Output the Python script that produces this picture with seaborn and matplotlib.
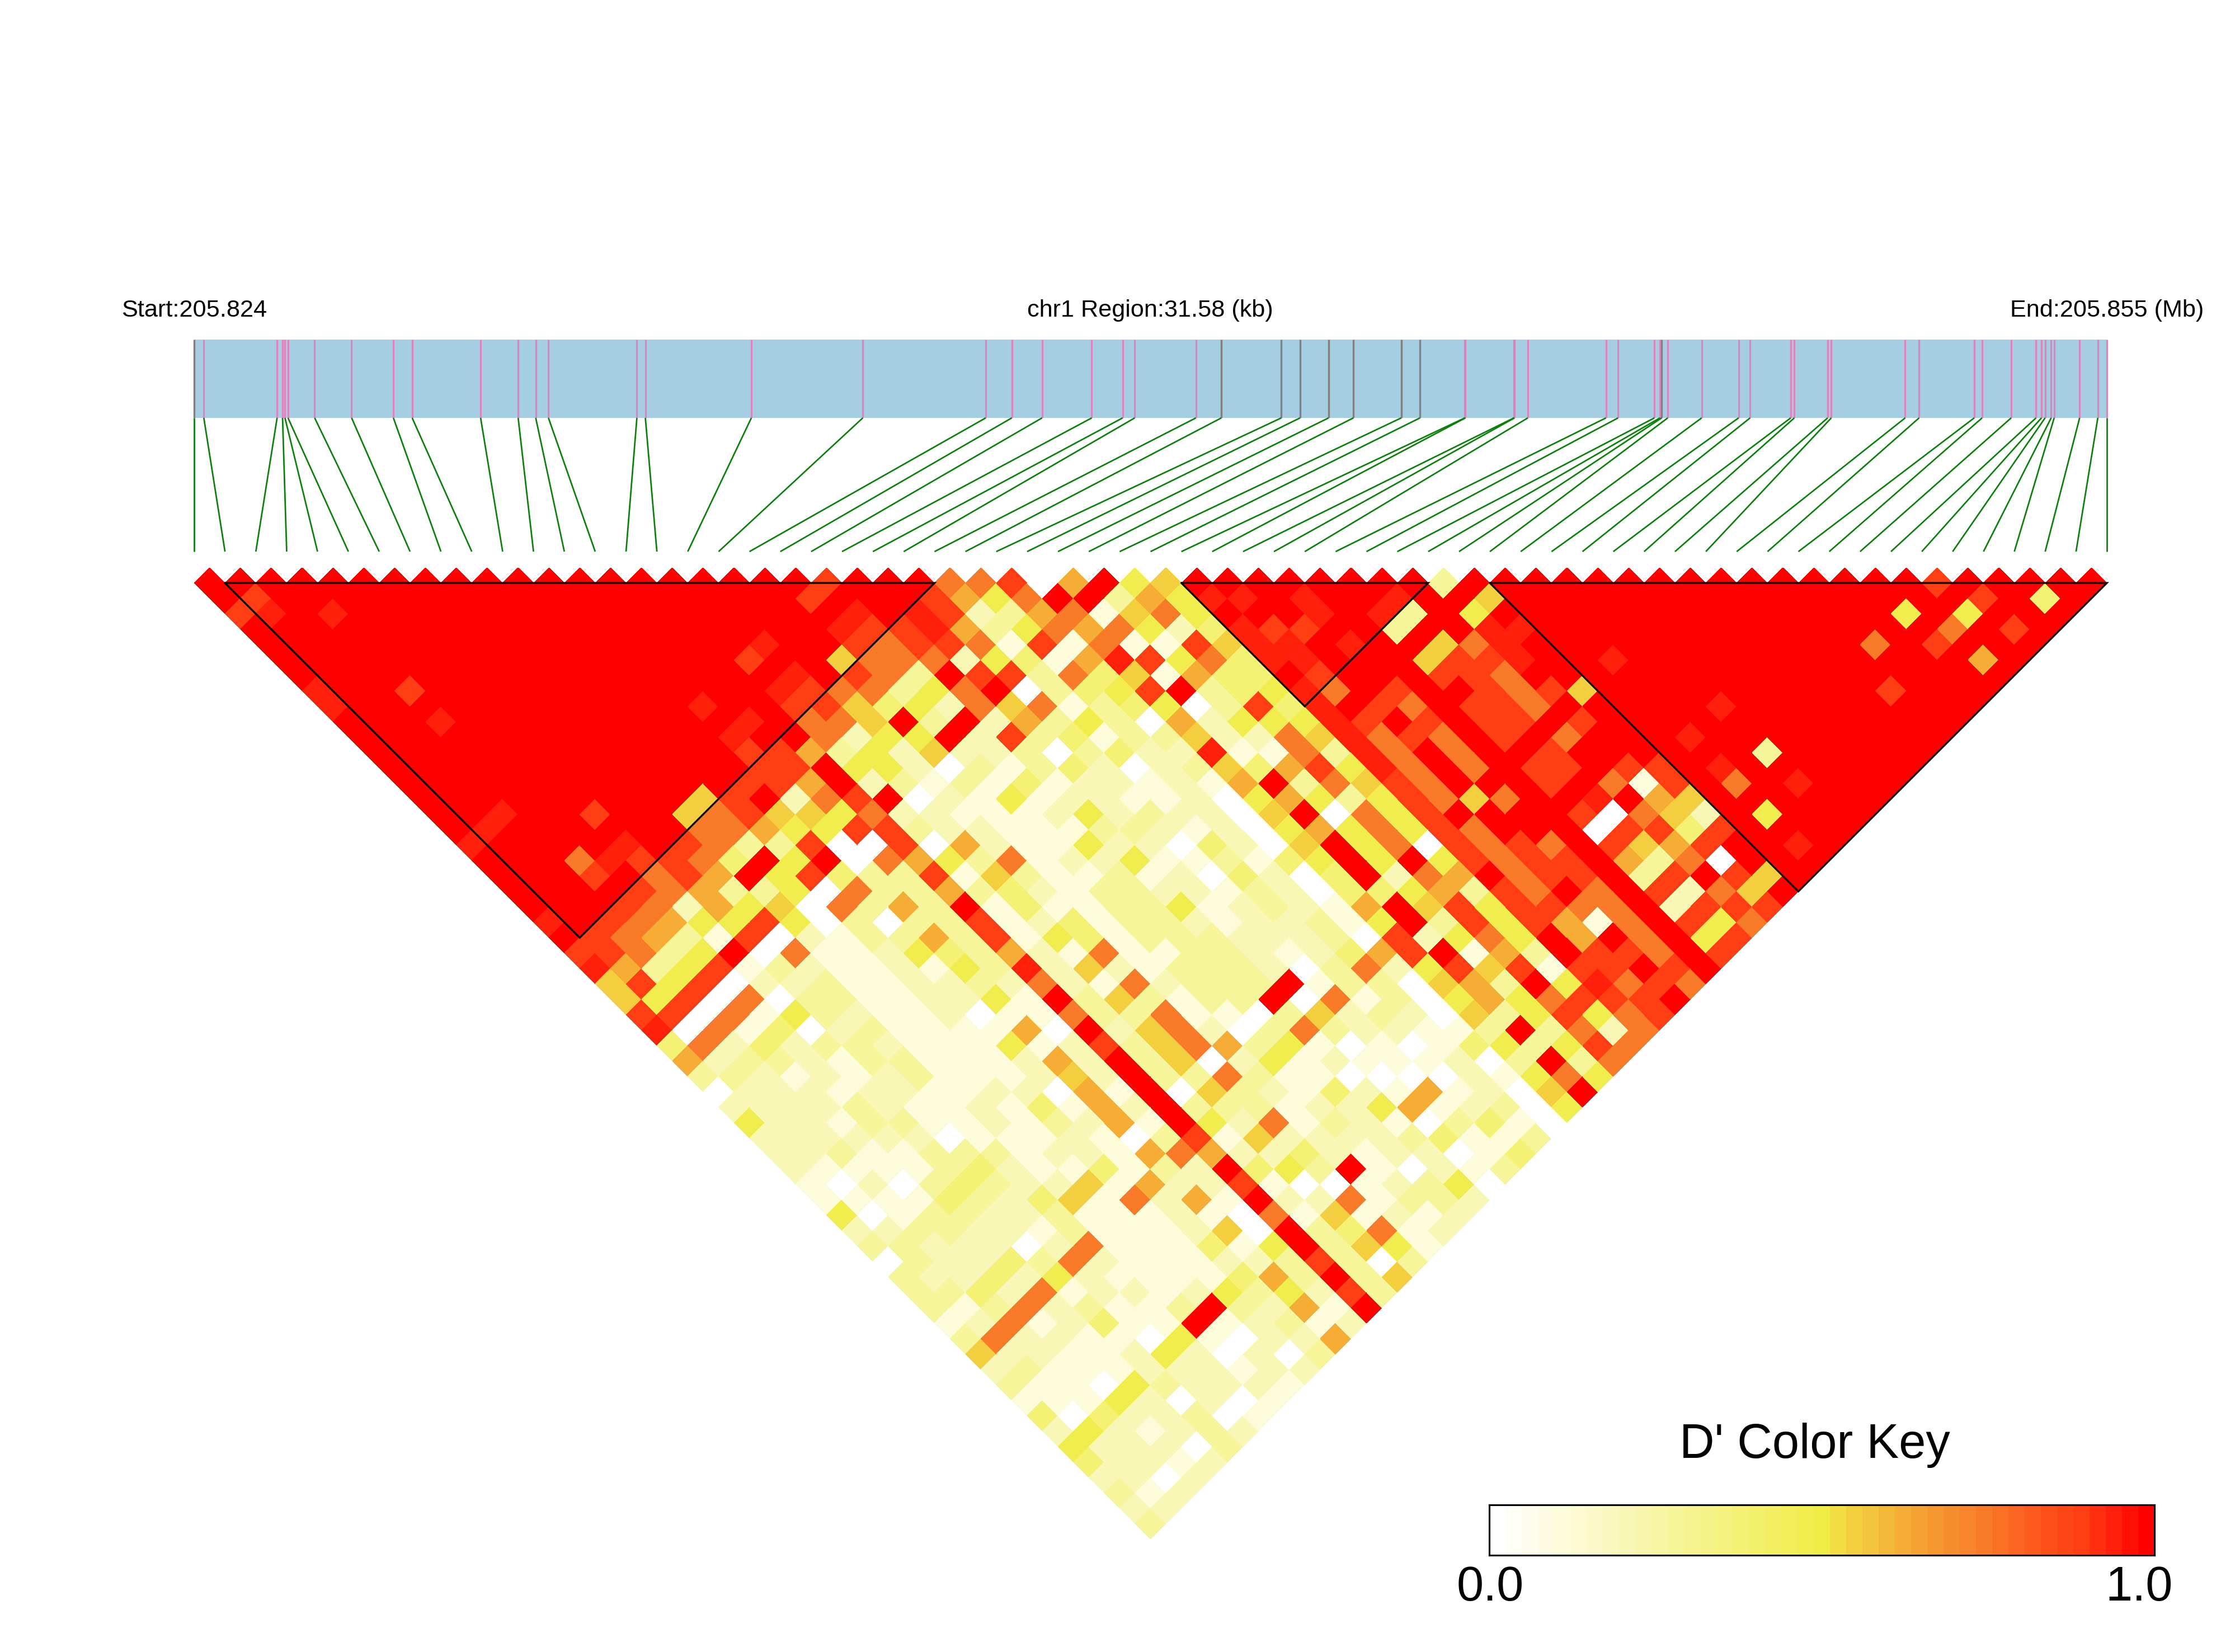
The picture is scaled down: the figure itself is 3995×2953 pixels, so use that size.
import numpy as np
import matplotlib
matplotlib.use("Agg")
import matplotlib.pyplot as plt
from matplotlib.colors import LinearSegmentedColormap
from matplotlib.transforms import Affine2D
import seaborn as sns

# Region annotation
START_LABEL = "Start:205.824"
REGION_LABEL = "chr1 Region:31.58 (kb)"
END_LABEL = "End:205.855 (Mb)"
KEY_TITLE = "D' Color Key"
KEY_TICKS = ["0.0", "1.0"]
REGION_KB = 31.58

# SNP offsets from the region start, in kb
SNP_POS_KB = [
    0.00, 0.16, 1.37, 1.46, 1.50, 1.55, 1.99, 2.60, 3.29, 3.60, 4.73, 5.35, 5.64, 5.85,
    7.31, 7.45, 9.20, 11.04, 13.07, 13.50, 14.00, 14.82, 15.33, 15.53, 16.54, 16.96,
    17.95, 18.26, 18.73, 19.14, 19.93, 20.24, 20.98, 20.99, 21.79, 21.80, 22.02, 23.31,
    23.51, 24.11, 24.20, 24.23, 24.33, 24.89, 25.50, 25.69, 26.36, 26.42, 26.97, 27.03,
    28.25, 28.48, 29.39, 29.52, 30.00, 30.41, 30.50, 30.56, 30.66, 30.71, 31.13, 31.43,
    31.58,
]
GREY_SNPS = [0, 25, 26, 27, 28, 29, 30, 31, 41]

# Haplotype blocks as (first SNP, last SNP)
BLOCKS = [(1, 24), (32, 40), (42, 62)]

# D' levels used in the pairwise table below
LEVELS = {"0": 0.0, "1": 0.12, "2": 0.2, "3": 0.29, "4": 0.38, "5": 0.48, "6": 0.56,
          "7": 0.63, "8": 0.74, "9": 0.88, "b": 0.95, "c": 0.98, "a": 1.0}

# Pairwise D': line n holds the pairs n SNPs apart, ordered by the left SNP
DPRIME_BY_DISTANCE = [
    "aaaaaaaaaa aaaaaaaaaa 9aaa88907a 56aaaaaaaa 3aaaaaaaaa aaaaaa9aaa aa",
    "a9aaaaaaaa aaaaaaaaa9 aaa9758aa3 75bbabaaba a6aaaaaaaa aaaaaaa9a4 a",
    "9babaaaaaa aaaaaaaaaa bab9237816 85aaabab3a 5aaaaaaaaa aaaa5a5aaa",
    "aaaaaaaaaa aaaaaaaaab 99b7358785 24b99aa3aa bbaaaaaaaa aaaaa8a9a",
    "aaaaaaaaaa aaaaaabaa9 8998191811 96bbabaa68 baaaaaaaaa aa8a9aaa",
    "aaaaaaaaaa aaaaa9aa68 8825417b95 84bbaaa699 baabaaaaaa aaaaa7a",
    "aaaaaaaaaa acaaaaba98 3a99384617 44a9aaa998 aaaaaaaaaa aaaaaa",
    "baa9aaaaaa aaaaab9883 58a03459a3 45b8a9aa98 96aaaaaaaa a9aaa",
    "baaaaaaaaa aabaa99645 2868134503 94ba98a998 aaaaabaaaa aaaa",
    "aaabaaaaaa aaaba886a3 a273530725 55b9a9a99a 9aaaaaaaaa aaa",
    "aaaaaaaaaa aabaa8255a 2934133622 86b898a9a8 aaabaaaaaa aa",
    "aaaaaaaaaa aa99735262 2303422b11 83b8a8aa9a aaaaa3aaaa a",
    "aaaaaaaaaa aa99a55203 1342023647 95b8a8a99a 99abaaaaaa",
    "aaaaaaaaaa a997a23131 41221217a3 8698aaa9a8 19a8abaaa",
    "aaaaaaaaa6 9a289a0215 1221120575 359868aaba 76aaaaaa",
    "aabaa9aa68 9665822111 25232206a0 859aaaa908 62a5aaa",
    "abaaaaaa88 7559932211 1332120575 8598aaa099 49aaaa",
    "baaaaba983 3900907211 52204206a5 809898a967 9aaba",
    "aaa8b9984a 5a08753812 25113145a5 a59899a738 0aaa",
    "aaa9a897a5 9433916311 31204204a2 87a899a39a 96a",
    "aaaa987335 0833734213 3221320445 7398a8a928 6a",
    "aaa9827560 8373a14113 35123217a6 959988a299 9",
    "ba98755950 3033912413 32122315a3 959718a958",
    "a987319021 3373915413 3322230925 85a7a8a59",
    "99835a0811 2543721811 33212479a1 73a998a9",
    "b735913211 2153b26213 3320382596 9199a9a",
    "6959022311 2232821823 33a1330673 a5b898",
    "6590803311 2251a36313 3a08130575 8999a",
    "9908153211 2011833811 0362320635 9589",
    "b081402311 1170a26820 38322113a3 828",
    "4824233211 1512936873 5101014535 98",
    "7233213311 1272a36025 12111203a3 8",
    "3321212311 1262a33831 1000021585",
    "0222122112 2071a06321 42171206a",
    "2222321121 4172a33312 25712305",
    "5221331121 3271a52813 2103410",
    "2222220111 2103916222 234113",
    "2231133312 2178722421 22014",
    "2111134211 4132a453a1 0213",
    "1020343226 1722910012 350",
    "1111432461 8271a22813 32",
    "5013322311 1210816121 2",
    "2233221311 1260a34812",
    "3322202811 1415a3651",
    "0322438211 12239303",
    "3224252111 1473a36",
    "3342812212 535293",
    "313823113a 3271a",
    "12812411a1 2312",
    "3822110510 227",
    "6221125202 03",
    "2311122212 2",
    "3110532221",
    "111520201",
    "40422301",
    "2521232",
    "522203",
    "42212",
    "2202",
    "312",
    "22",
    "3",
]

KEY_STEPS = 41
KEY_NODES = [(0.0, "#FFFFFF"), (0.5, "#F0EC46"), (0.55, "#F3CF40"), (0.65, "#F5A233"),
             (0.75, "#F97A28"), (0.85, "#FD5019"), (0.9, "#FF3E14"), (1.0, "#FF0000")]

W, H = 3995, 2953
DPI = 300

sns.set_theme(style="white")
plt.rcParams["font.family"] = ["Liberation Sans", "DejaVu Sans"]

fig = plt.figure(figsize=(W / DPI, H / DPI), dpi=DPI, facecolor="white")


def add_axes_px(left, top, right, bottom):
    """Axes placed by its pixel box, measured from the top-left corner."""
    return fig.add_axes([left / W, 1 - bottom / H, (right - left) / W, (bottom - top) / H])


def label_px(x, y, text, size):
    fig.text(x / W, 1 - y / H, text, ha="center", va="center", fontsize=size, color="black")


n_snps = len(SNP_POS_KB)
dprime = np.full((n_snps, n_snps), np.nan)
for dist, row in enumerate(DPRIME_BY_DISTANCE, start=1):
    cells = row.replace(" ", "")
    if len(cells) != n_snps - dist:
        raise ValueError(f"distance {dist}: {len(cells)} cells")
    for left, ch in enumerate(cells):
        dprime[left, left + dist] = LEVELS[ch]

ld_cmap = LinearSegmentedColormap.from_list("ld", KEY_NODES, N=KEY_STEPS)

# Gene bar with SNP ticks and the links to the evenly spaced heatmap columns
ax_map = add_axes_px(347, 607.5, 3766, 986)
ax_map.set_xlim(0, REGION_KB)
ax_map.set_ylim(0, 1)
ax_map.axis("off")
bar_floor = 0.6314
ax_map.axhspan(bar_floor, 1, color="#A6CEE3", lw=0)
even_kb = np.linspace(0, REGION_KB, n_snps)
for k, (pos, even) in enumerate(zip(SNP_POS_KB, even_kb)):
    tick = "#808080" if k in GREY_SNPS else "#DE84BC"
    ax_map.plot([pos, pos], [bar_floor, 1], color=tick, lw=0.8, clip_on=False,
                solid_capstyle="butt")
    ax_map.plot([pos, even], [bar_floor, 0], color="#0A800A", lw=0.65, clip_on=False,
                solid_capstyle="butt")

# LD triangle: the upper triangle of the matrix turned by 45 degrees
ax_ld = add_axes_px(347, 1014.5, 3766, 2751.4)
mask = np.isnan(dprime)
sns.heatmap(dprime, mask=mask, cmap=ld_cmap, vmin=0, vmax=1, cbar=False,
            xticklabels=False, yticklabels=False, ax=ax_ld)
rotate = Affine2D.from_values(1, 1, 1, -1, -1, 0)
ax_ld.collections[0].set_transform(rotate + ax_ld.transData)
ax_ld.set_xlim(0, 2 * (n_snps - 1))
ax_ld.set_ylim(n_snps, 0)
ax_ld.axis("off")
for first, last in BLOCKS:
    ax_ld.plot([2 * first, 2 * last, first + last, 2 * first],
               [1, 1, 1 + last - first, 1],
               color="black", lw=0.78, clip_on=False, solid_joinstyle="miter")

# Colour key
ax_key = add_axes_px(2662, 2690, 3851, 2780)
key_values = (np.arange(KEY_STEPS) + 0.5) / KEY_STEPS
sns.heatmap(key_values[np.newaxis, :], cmap=ld_cmap, vmin=0, vmax=1, cbar=False,
            xticklabels=False, yticklabels=False, ax=ax_key)
for spine in ax_key.spines.values():
    spine.set_visible(True)
    spine.set_color("black")
    spine.set_linewidth(0.75)

label_px(347, 555, START_LABEL, 10.4)
label_px(2056, 555, REGION_LABEL, 10.4)
label_px(3766, 555, END_LABEL, 10.4)
label_px(3244, 2583, KEY_TITLE, 20.8)
label_px(2664, 2838, KEY_TICKS[0], 20.8)
label_px(3824, 2838, KEY_TICKS[1], 20.8)

fig.savefig("out.png", dpi=DPI, facecolor="white")
